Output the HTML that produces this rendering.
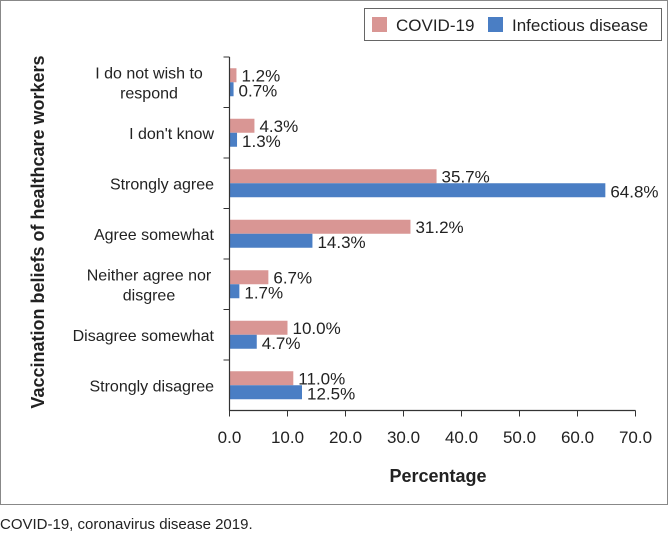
<!DOCTYPE html>
<html><head><meta charset="utf-8"><style>
body{margin:0;background:#fff;font-family:"Liberation Sans",sans-serif;}
svg text{font-family:"Liberation Sans",sans-serif;fill:#222;}
</style></head><body>
<svg width="670" height="534">
<rect x="0.5" y="0.5" width="667" height="504" fill="#fff" stroke="#888"/>
<g id="plot"></g>
<g>
<rect x="364.5" y="8.5" width="297" height="32" fill="#fff" stroke="#666"/>
<rect x="372" y="17" width="15" height="15" fill="#d99694"/>
<text x="396" y="31" font-size="17">COVID-19</text>
<rect x="488" y="17" width="15" height="15" fill="#4a7ec4"/>
<text x="512" y="31" font-size="17">Infectious disease</text>
</g>
<text transform="translate(44,232) rotate(-90)" text-anchor="middle" font-size="18" font-weight="bold">Vaccination beliefs of healthcare workers</text>
<text x="438" y="482" text-anchor="middle" font-size="18" font-weight="bold">Percentage</text>
<text x="0" y="529" font-size="15">COVID-19, coronavirus disease 2019.</text>
</svg>
<script>
const categories=[["I do not wish to","respond"],["I don't know"],["Strongly agree"],["Agree somewhat"],["Neither agree nor","disgree"],["Disagree somewhat"],["Strongly disagree"]];
const covid=[1.2,4.3,35.7,31.2,6.7,10.0,11.0];
const infectious=[0.7,1.3,64.8,14.3,1.7,4.7,12.5];
const ticks=[0,10,20,30,40,50,60,70];
const NS="http://www.w3.org/2000/svg";
const g=document.getElementById('plot');
const x0=229.5,px=5.8,plotTop=57,plotBottom=410.5,band=(plotBottom-plotTop)/categories.length;
const X=v=>x0+v*px;
function mk(t,a,txt){const e=document.createElementNS(NS,t);for(const k in a)e.setAttribute(k,a[k]);if(txt!==undefined)e.textContent=txt;g.appendChild(e);return e;}
categories.forEach((c,i)=>{
 const cy=plotTop+band*(i+0.5);
 const b1=mk('rect',{x:x0,y:cy-14,width:covid[i]*px,height:14,fill:'#d99694'});
 
 
 const b2=mk('rect',{x:x0,y:cy,width:infectious[i]*px,height:14,fill:'#4a7ec4'});
 
 
 const l1=mk('text',{x:X(covid[i])+5,y:cy-1,'font-size':17},covid[i].toFixed(1)+'%');
 
 
 const l2=mk('text',{x:X(infectious[i])+5,y:cy+14,'font-size':17},infectious[i].toFixed(1)+'%');
 
 
 const n=c.length;
 c.forEach((s,j)=>{
 const attrs=n>1?{x:149,'text-anchor':'middle'}:{x:214,'text-anchor':'end'};
 attrs.y=cy+6+(j-(n-1)/2)*20;attrs['font-size']=16;
 const t=mk('text',attrs,s);
 
 });
 mk('line',{x1:x0-6,x2:x0,y1:plotTop+band*i,y2:plotTop+band*i,stroke:'#333'});
});
mk('line',{x1:x0,x2:x0,y1:plotTop,y2:plotBottom,stroke:'#333','stroke-width':1.2});
mk('line',{x1:x0,x2:X(70),y1:plotBottom,y2:plotBottom,stroke:'#333','stroke-width':1.2});
ticks.forEach(t=>{
 mk('line',{x1:X(t),x2:X(t),y1:plotBottom,y2:plotBottom+6,stroke:'#333'});
 const e=mk('text',{x:X(t),y:443,'text-anchor':'middle','font-size':17},t.toFixed(1));
 
 
});
</script>
</body></html>
